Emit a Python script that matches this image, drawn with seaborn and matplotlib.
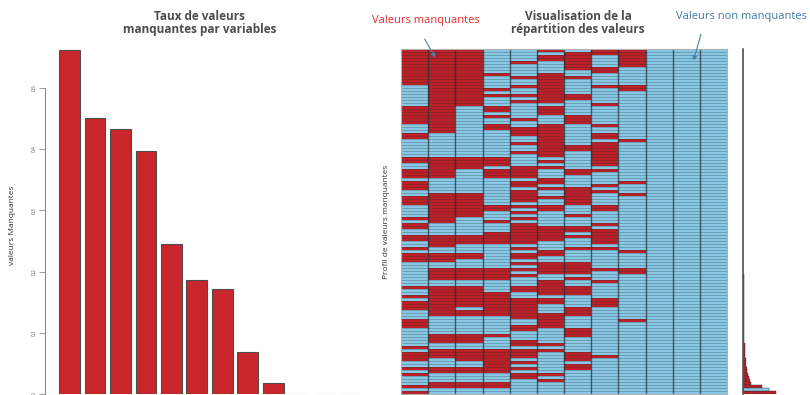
import numpy as np
import pandas as pd
import seaborn as sns
import matplotlib.pyplot as plt
from matplotlib.colors import ListedColormap

# ---- data -------------------------------------------------------------
variables = ["X01", "X02", "X03", "X04", "X05", "X06",
             "X07", "X08", "X09", "X10", "X11", "X12"]

# share of missing values per variable
missing_rate = [0.562, 0.451, 0.433, 0.397, 0.245, 0.186,
                0.171, 0.069, 0.018, 0.0, 0.0, 0.0]

# missing-value combinations: for each variable, the runs of combination
# rows (start, end) in which the variable is missing
missing_runs = [
    [(0, 12), (19, 25), (28, 30), (36, 38), (40, 43), (44, 47), (49, 52), (56, 57),
     (58, 60), (62, 64), (66, 67), (68, 71), (79, 80), (82, 83), (84, 87), (90, 93),
     (99, 100), (101, 104), (106, 107), (108, 109), (112, 113), (114, 115)],
    [(0, 28), (36, 43), (48, 58), (62, 66), (68, 71), (73, 77), (79, 89), (95, 98),
     (100, 103), (106, 108), (111, 113)],
    [(0, 19), (36, 40), (48, 56), (62, 65), (68, 70), (73, 77), (79, 86), (87, 89),
     (95, 98), (100, 104), (106, 108), (111, 113)],
    [(8, 9), (13, 14), (15, 16), (19, 21), (22, 23), (25, 27), (36, 39), (40, 43),
     (52, 54), (57, 58), (61, 65), (73, 77), (81, 89), (95, 96), (100, 108), (111, 113)],
    [(4, 5), (9, 10), (12, 13), (15, 16), (17, 18), (23, 24), (26, 29), (31, 32),
     (34, 35), (39, 43), (44, 46), (47, 51), (52, 53), (54, 55), (56, 57), (58, 65),
     (66, 67), (68, 70), (71, 72), (73, 74), (75, 76), (79, 81), (83, 90), (92, 94),
     (97, 99), (100, 103), (104, 105), (106, 107), (108, 110)],
    [(0, 1), (2, 4), (8, 18), (19, 22), (25, 36), (37, 38), (39, 40), (43, 45),
     (46, 47), (49, 50), (52, 54), (59, 64), (67, 69), (71, 75), (77, 82), (83, 85),
     (88, 93), (98, 99), (100, 101), (108, 109), (110, 111)],
    [(1, 7), (9, 10), (15, 17), (22, 25), (32, 34), (40, 42), (46, 52), (55, 56),
     (59, 61), (62, 63), (66, 67), (71, 75), (76, 77), (79, 82), (86, 89), (93, 96),
     (101, 104), (105, 107)],
    [(0, 2), (6, 8), (12, 13), (18, 19), (25, 26), (28, 30), (31, 39), (40, 41),
     (45, 46), (47, 48), (52, 54), (58, 59), (60, 65), (66, 67), (73, 74), (77, 78),
     (83, 86), (102, 103)],
    [(0, 6), (12, 14), (30, 31), (44, 45), (48, 49), (67, 68), (73, 75), (90, 91)],
    [],
    [],
    [],
]

# number of observations showing each combination (same row order)
combo_freq = [
    1, 1, 1, 1, 1, 1, 1, 1, 1, 1, 1, 1, 1, 1, 1, 1, 1, 1, 1, 1, 1, 1, 1, 1, 1,
    1, 1, 1, 1, 1, 1, 1, 1, 1, 1, 1, 1, 1, 1, 1, 1, 1, 1, 1, 1, 1, 1, 1, 1, 1,
    1, 1, 1, 1, 1, 1, 1, 1, 1, 1, 1, 1, 1, 1, 1, 1, 1, 1, 1, 1, 1, 1, 1, 1, 1,
    2, 2, 2, 2, 2, 2, 2, 2, 2, 2, 2, 2, 2,
    3, 3, 3, 3,
    4, 4, 4, 5, 5, 5, 6, 6, 7, 7, 8, 9, 10, 11, 12, 14, 16, 19, 23, 28,
    65, 87, 110,
]

# ---- style ------------------------------------------------------------
RED_BAR = "#C8262A"
RED_CELL = "#BC2026"
BLUE_CELL = "#88C8E4"
EDGE = "#22323a"
TITLE_COL = "#4d4d4d"

sns.set_theme(style="white")
plt.rcParams["font.family"] = ["Open Sans", "DejaVu Sans"]

W, H = 810, 395
fig = plt.figure(figsize=(W / 100, H / 100), dpi=100)


def box(x0, y0, x1, y1):
    """Axes rectangle from pixel edges measured from the top-left corner."""
    return [x0 / W, 1 - y1 / H, (x1 - x0) / W, (y1 - y0) / H]


# ---- left: missing rate per variable -----------------------------------
ax_bar = fig.add_axes(box(45, 45, 367, 394))
df_rate = pd.DataFrame({"variable": variables, "rate": missing_rate})
sns.barplot(data=df_rate, x="variable", y="rate", color=RED_BAR,
            edgecolor="#4d4d4d", linewidth=0.8, width=0.82, saturation=1,
            ax=ax_bar)
ax_bar.set_xlim(-0.96, 11.67)
ax_bar.set_ylim(0, 0.570)
for side in ("top", "right", "bottom"):
    ax_bar.spines[side].set_visible(False)
ax_bar.spines["left"].set_bounds(0, 0.5)
ax_bar.spines["left"].set_color("#8a8a8a")
ax_bar.spines["left"].set_linewidth(0.8)
ax_bar.set_xticks([])
ax_bar.set_xlabel("")
ax_bar.set_ylabel("")
ticks = [0, 0.1, 0.2, 0.3, 0.4, 0.5]
ax_bar.set_yticks(ticks)
ax_bar.set_yticklabels(["0", "0.1", "0.2", "0.3", "0.4", "0.5"],
                       rotation=90, va="center", fontsize=3.5, color="#555555")
ax_bar.tick_params(axis="y", left=True, direction="out", length=4,
                   width=0.6, color="#8a8a8a", pad=2)

fig.text(13 / W, 1 - 225 / H, "valeurs Manquantes", rotation=90,
         ha="center", va="center", fontsize=6, color="#333333")
fig.text(200 / W, 1 - 16 / H, "Taux de valeurs", ha="center", va="center",
         fontsize=8.5, fontweight="bold", color=TITLE_COL)
fig.text(200 / W, 1 - 29 / H, "manquantes par variables", ha="center",
         va="center", fontsize=8.5, fontweight="bold", color=TITLE_COL)

# ---- right: combination grid -------------------------------------------
n_rows = len(combo_freq)
pattern = np.zeros((n_rows, len(variables)), dtype=int)
for j, runs in enumerate(missing_runs):
    for a, b in runs:
        pattern[a:b, j] = 1

ax_grid = fig.add_axes(box(401, 49, 727, 394))
sns.heatmap(pattern, cmap=ListedColormap([BLUE_CELL, RED_CELL]), vmin=0,
            vmax=1, cbar=False, linewidths=0,
            xticklabels=False, yticklabels=False, ax=ax_grid)
# thin cell borders between combinations, stronger ones between variables
ax_grid.hlines(np.arange(1, n_rows), 0, len(variables), colors=EDGE,
               linewidth=0.45, alpha=0.45)
ax_grid.vlines(np.arange(1, len(variables)), 0, n_rows, colors=EDGE,
               linewidth=1.0, alpha=0.75)
for side in ax_grid.spines.values():
    side.set_visible(True)
    side.set_color("#b0b0b0")
    side.set_linewidth(0.8)

fig.text(386 / W, 1 - 222 / H, "Profil de valeurs manquantes", rotation=90,
         ha="center", va="center", fontsize=6, color="#333333")
fig.text(578 / W, 1 - 16 / H, "Visualisation de la", ha="center",
         va="center", fontsize=8.5, fontweight="bold", color=TITLE_COL)
fig.text(578 / W, 1 - 29 / H, "répartition des valeurs", ha="center",
         va="center", fontsize=8.5, fontweight="bold", color=TITLE_COL)

# ---- right: frequency of each combination -------------------------------
ax_hist = fig.add_axes(box(743, 49, 805, 394))
complete = pattern.sum(axis=1) == 0
df_comb = pd.DataFrame({
    "row": np.arange(n_rows),
    "freq": combo_freq,
    "kind": np.where(complete, "complet", "incomplet"),
})
sns.barplot(data=df_comb, x="freq", y="row", hue="kind",
            palette={"complet": BLUE_CELL, "incomplet": RED_CELL},
            dodge=False, orient="h", width=1.0, edgecolor=EDGE,
            linewidth=0.3, saturation=1, legend=False, ax=ax_hist)
ax_hist.set_xlim(0, 207)
ax_hist.set_xticks([])
ax_hist.set_yticks([])
ax_hist.set_xlabel("")
ax_hist.set_ylabel("")
for side in ("top", "right", "bottom"):
    ax_hist.spines[side].set_visible(False)
ax_hist.spines["left"].set_color("#555555")
ax_hist.spines["left"].set_linewidth(1.2)

# ---- callouts ----------------------------------------------------------
fig.text(426 / W, 1 - 21 / H, "Valeurs manquantes", ha="center",
         va="center", fontsize=8, color="#EE2A2A")
fig.text(742 / W, 1 - 17 / H, "Valeurs non manquantes", ha="center",
         va="center", fontsize=8, color="#3E78A6")
arrow = dict(arrowstyle="-|>", color="#4f7fa3", lw=0.8, mutation_scale=6)
ax_grid.annotate("", xy=(436.7, H - 60), xytext=(423.3, H - 36.7),
                 xycoords="figure pixels", textcoords="figure pixels",
                 arrowprops=arrow)
ax_grid.annotate("", xy=(692.7, H - 63.3), xytext=(701.7, H - 31.7),
                 xycoords="figure pixels", textcoords="figure pixels",
                 arrowprops=arrow)

fig.savefig("out.png", dpi=100)
